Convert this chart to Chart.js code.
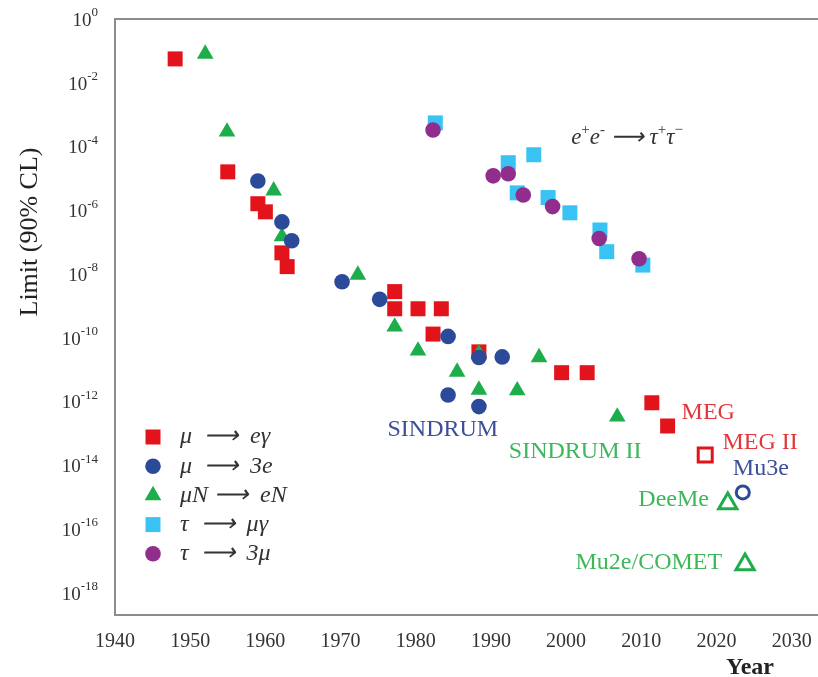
<!DOCTYPE html>
<html>
<head>
<meta charset="utf-8">
<script src="https://cdn.jsdelivr.net/npm/chart.js"></script>
<style>
html, body { margin: 0; padding: 0; background: #fff; }
#wrap { width: 818px; height: 677px; }
</style>
</head>
<body>
<div id="wrap"><canvas id="lfvChart" width="818" height="677"></canvas></div>
<script>
// values: year, 90% CL upper limit
const muEgYears   = [1948, 1955, 1959, 1960, 1962.2, 1962.9, 1977.2, 1977.2, 1980.3, 1983.4, 1982.3, 1988.4, 1999.4, 2002.8, 2011.4, 2013.5];
const muEgLimits  = [5.6e-2, 1.6e-5, 1.6e-6, 8.9e-7, 4.6e-8, 1.7e-8, 2.8e-9, 8.1e-10, 8.1e-10, 8.1e-10, 1.3e-10, 3.6e-11, 8e-12, 8e-12, 9.1e-13, 1.7e-13];
const mu3eYears   = [1959, 1962.2, 1963.5, 1970.2, 1975.2, 1984.3, 1988.4, 1991.5, 1984.3, 1988.4];
const mu3eLimits  = [8.3e-6, 4.3e-7, 1.1e-7, 5.7e-9, 1.6e-9, 1.1e-10, 2.4e-11, 2.5e-11, 1.6e-12, 6.9e-13];
const muNeNYears  = [1952, 1954.9, 1961.1, 1962.2, 1972.3, 1977.2, 1980.3, 1988.4, 1985.5, 1996.4, 1988.4, 1993.5, 2006.8];
const muNeNLimits = [8e-2, 2.9e-4, 4.1e-6, 1.5e-7, 9.4e-9, 2.2e-10, 3.9e-11, 3.2e-11, 8.5e-12, 2.4e-11, 2.3e-12, 2.2e-12, 3.3e-13];
const tauMgYears  = [1982.6, 1992.3, 1995.7, 1993.5, 1997.6, 2000.5, 2004.5, 2005.4, 2010.2];
const tauMgLimits = [5.5e-4, 3.1e-5, 5.5e-5, 3.5e-6, 2.5e-6, 8.3e-7, 2.4e-7, 5e-8, 1.9e-8];
const tau3mYears  = [1982.3, 1990.3, 1992.3, 1994.3, 1998.2, 2004.4, 2009.7];
const tau3mLimits = [3.3e-4, 1.2e-5, 1.4e-5, 3e-6, 1.3e-6, 1.3e-7, 3e-8];

// planned experiments (open markers)
const megIIYears  = [2018.5];
const megIILimits = [2.1e-14];
const mu3eNextYears  = [2023.5];
const mu3eNextLimits = [1.4e-15];
const muNeNNextYears  = [2021.5, 2023.8];
const muNeNNextLimits = [6.3e-16, 7.6e-18];

const yearTicks = [1940, 1950, 1960, 1970, 1980, 1990, 2000, 2010, 2020, 2030];
const limitExponents = [0, -2, -4, -6, -8, -10, -12, -14, -16, -18];

const SERIF = '"Liberation Serif", "Times New Roman", serif';
const RED = '#E3131B', BLUE = '#2C4A9A', GREEN = '#1DAE4B', CYAN = '#38C3F2', PURPLE = '#902D8D';

// text labels placed at data coordinates
const notes = [
    { text: 'SINDRUM',     x: 1983.6, y: 1.3e-13, color: '#3C4F98' },
    { text: 'SINDRUM II',  x: 2001.2, y: 2.7e-14, color: '#3DB75A' },
    { text: 'MEG',         x: 2018.9, y: 4.5e-13, color: '#E4353D' },
    { text: 'MEG II',      x: 2025.8, y: 5.1e-14, color: '#E4353D' },
    { text: 'Mu3e',        x: 2025.9, y: 7.8e-15, color: '#3C4F98' },
    { text: 'DeeMe',       x: 2014.3, y: 8.3e-16, color: '#3DB75A' },
    { text: 'Mu2e/COMET',  x: 2011.0, y: 8.9e-18, color: '#3DB75A' }
];

function toPoints(xs, ys) {
    return xs.map((x, i) => ({ x: x, y: ys[i] }));
}

function filled(label, xs, ys, color, style, radius, order) {
    return {
        label: label, data: toPoints(xs, ys), showLine: false,
        pointStyle: style, pointRadius: radius, pointHoverRadius: radius,
        backgroundColor: color, borderColor: color, borderWidth: 0, order: order
    };
}

function open(label, xs, ys, color, style, radius) {
    return {
        label: label, data: toPoints(xs, ys), showLine: false, inLegend: false,
        pointStyle: style, pointRadius: radius, pointHoverRadius: radius,
        backgroundColor: 'rgba(255,255,255,0)', borderColor: color, borderWidth: 3, order: 0
    };
}

const datasets = [
    filled('μ  ⟶  eγ', muEgYears, muEgLimits, RED, 'rect', 10.6, 5),
    filled('μ  ⟶  3e', mu3eYears, mu3eLimits, BLUE, 'circle', 7.8, 3),
    filled('μN ⟶  eN', muNeNYears, muNeNLimits, GREEN, 'triangle', 9.6, 4),
    filled('τ  ⟶  μγ', tauMgYears, tauMgLimits, CYAN, 'rect', 10.6, 2),
    filled('τ  ⟶  3μ', tau3mYears, tau3mLimits, PURPLE, 'circle', 7.8, 1),
    open('MEG II', megIIYears, megIILimits, RED, 'rect', 9.9),
    open('Mu3e', mu3eNextYears, mu3eNextLimits, BLUE, 'circle', 6.5),
    open('DeeMe, Mu2e/COMET', muNeNNextYears, muNeNNextLimits, GREEN, 'triangle', 10.5)
];

function drawMarker(ctx, style, x, y, r, color) {
    ctx.fillStyle = color;
    ctx.beginPath();
    if (style === 'rect') {
        const s = r * Math.SQRT1_2;
        ctx.rect(x - s, y - s, 2 * s, 2 * s);
    } else if (style === 'circle') {
        ctx.arc(x, y, r, 0, Math.PI * 2);
    } else {
        let a = 0;
        ctx.moveTo(x + Math.sin(a) * r, y - Math.cos(a) * r);
        a += Math.PI * 2 / 3;
        ctx.lineTo(x + Math.sin(a) * r, y - Math.cos(a) * r);
        a += Math.PI * 2 / 3;
        ctx.lineTo(x + Math.sin(a) * r, y - Math.cos(a) * r);
        ctx.closePath();
    }
    ctx.fill();
}

const decorPlugin = {
    id: 'decor',
    afterDraw(chart) {
        const ctx = chart.ctx;
        const area = chart.chartArea;
        const xs = chart.scales.x, ys = chart.scales.y;
        ctx.save();

        // top frame line
        ctx.strokeStyle = '#8c8c8c';
        ctx.lineWidth = 2;
        ctx.beginPath();
        ctx.moveTo(area.left - 1, area.top);
        ctx.lineTo(area.right, area.top);
        ctx.stroke();

        // x tick labels (years)
        ctx.fillStyle = '#333';
        ctx.textAlign = 'center';
        ctx.textBaseline = 'middle';
        ctx.font = '20px ' + SERIF;
        xs.ticks.forEach(function (t) {
            ctx.fillText(String(t.value), xs.getPixelForValue(t.value), area.bottom + 27);
        });

        // y tick labels as 10^n
        ctx.textAlign = 'right';
        ys.ticks.forEach(function (t) {
            const py = ys.getPixelForValue(t.value);
            const sup = String(Math.round(Math.log10(t.value)));
            ctx.font = '13px ' + SERIF;
            const sw = ctx.measureText(sup).width;
            ctx.fillText(sup, 98, py - 6);
            ctx.font = '19px ' + SERIF;
            ctx.fillText('10', 98 - sw, py + 2);
        });

        // axis titles
        ctx.fillStyle = '#222';
        ctx.save();
        ctx.translate(30, 232);
        ctx.rotate(-Math.PI / 2);
        ctx.textAlign = 'center';
        ctx.textBaseline = 'middle';
        ctx.font = '26px ' + SERIF;
        ctx.fillText('Limit (90% CL)', 0, 0);
        ctx.restore();

        ctx.textAlign = 'center';
        ctx.textBaseline = 'alphabetic';
        ctx.font = 'bold 24px ' + SERIF;
        ctx.fillText('Year', 750, 674);

        // legend inside plot
        let row = 0;
        chart.data.datasets.forEach(function (ds) {
            if (ds.inLegend === false) return;
            const y = 437 + row * 29.2;
            drawMarker(ctx, ds.pointStyle, 153, y, ds.pointRadius, ds.backgroundColor);
            ctx.fillStyle = '#333';
            ctx.textAlign = 'left';
            ctx.textBaseline = 'middle';
            ctx.font = 'italic 24px ' + SERIF;
            ctx.fillText(ds.label, 180, y);
            row++;
        });

        // experiment names
        ctx.textAlign = 'center';
        ctx.textBaseline = 'middle';
        ctx.font = '24px ' + SERIF;
        notes.forEach(function (n) {
            ctx.fillStyle = n.color;
            ctx.fillText(n.text, xs.getPixelForValue(n.x), ys.getPixelForValue(n.y));
        });

        // e+e- -> tau+tau- production label
        const parts = [['e', 0], ['+', 1], ['e', 0], ['-', 1], [' ⟶ ', 0], ['τ', 0], ['+', 1], ['τ', 0], ['−', 1]];
        const baseFont = 'italic 23px ' + SERIF, supFont = '15px ' + SERIF;
        let total = 0;
        parts.forEach(function (p) {
            ctx.font = p[1] ? supFont : baseFont;
            total += ctx.measureText(p[0]).width;
        });
        let tx = xs.getPixelForValue(2008.1) - total / 2;
        const ty = ys.getPixelForValue(1.9e-4);
        ctx.fillStyle = '#333';
        ctx.textAlign = 'left';
        ctx.textBaseline = 'middle';
        parts.forEach(function (p) {
            ctx.font = p[1] ? supFont : baseFont;
            ctx.fillText(p[0], tx, p[1] ? ty - 8 : ty);
            tx += ctx.measureText(p[0]).width;
        });

        ctx.restore();
    }
};

const ctx = document.getElementById('lfvChart').getContext('2d');
const lfvChart = new Chart(ctx, {
    type: 'scatter',
    data: { datasets: datasets },
    plugins: [decorPlugin],
    options: {
        responsive: false,
        animation: false,
        layout: { autoPadding: false, padding: { top: 19, right: 0, bottom: 0, left: 0 } },
        plugins: {
            legend: { display: false },
            tooltip: { enabled: false }
        },
        scales: {
            x: {
                type: 'linear',
                min: 1940,
                max: 2033.5,
                grid: { display: false, drawTicks: false },
                border: { display: true, color: '#8c8c8c', width: 2 },
                ticks: { display: false },
                afterBuildTicks: function (scale) {
                    scale.ticks = yearTicks.map(v => ({ value: v }));
                },
                afterFit: function (scale) { scale.height = 62; }
            },
            y: {
                type: 'logarithmic',
                min: Math.pow(10, -18.7),
                max: 1,
                grid: { display: false, drawTicks: false },
                border: { display: true, color: '#8c8c8c', width: 2 },
                ticks: { display: false },
                afterBuildTicks: function (scale) {
                    scale.ticks = limitExponents.map(e => ({ value: Math.pow(10, e) }));
                },
                afterFit: function (scale) { scale.width = 115; }
            }
        }
    }
});
</script>
</body>
</html>
